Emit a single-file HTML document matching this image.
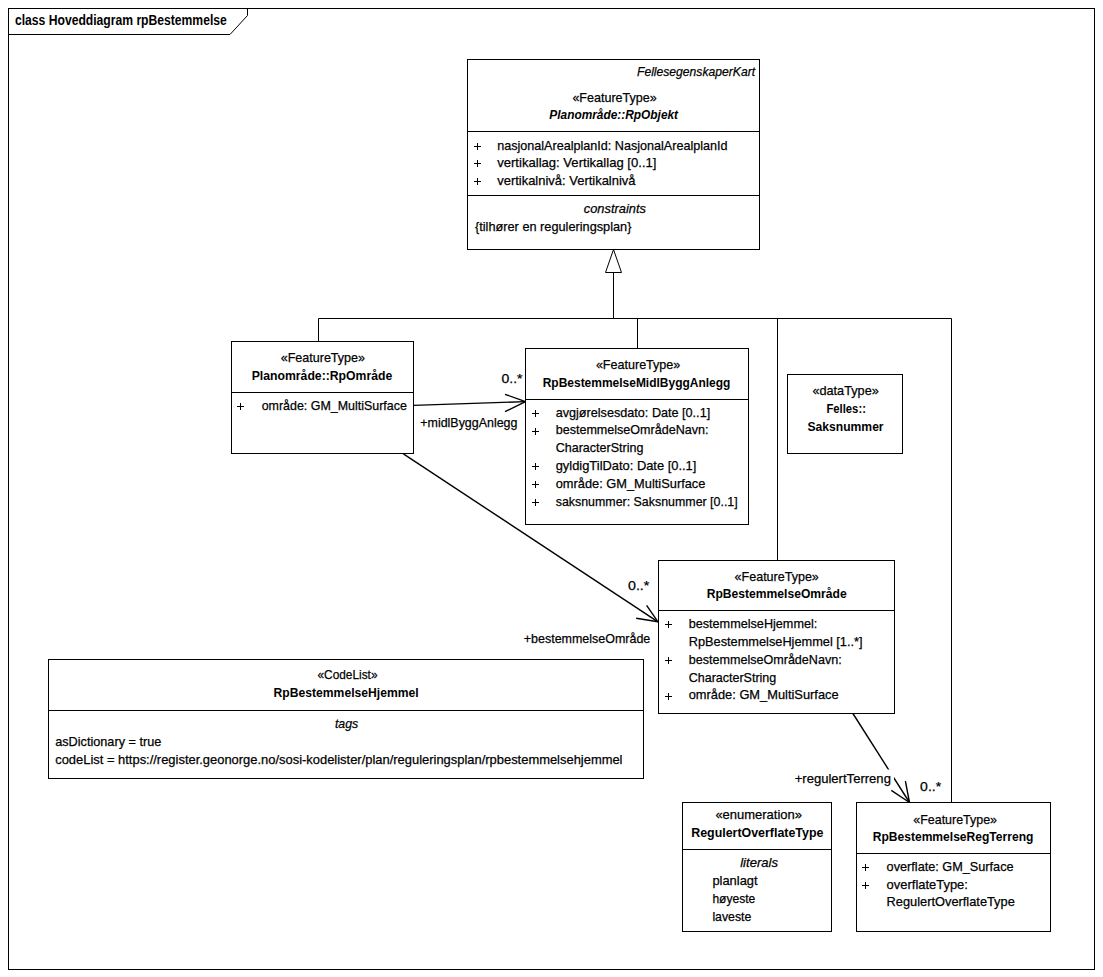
<!DOCTYPE html>
<html><head><meta charset="utf-8"><style>
html,body{margin:0;padding:0;background:#fff;}
svg{display:block;}
text{font-family:"Liberation Sans",sans-serif;font-size:13.5px;fill:#000;stroke:#000;stroke-width:0.25px;}
text[font-weight]{stroke-width:0;}
</style></head><body>
<svg width="1103" height="977" viewBox="0 0 1103 977">
<g fill="none" stroke="#000" stroke-width="1">
<rect x="8.5" y="8.5" width="1086" height="961"/>
<path d="M8.5,34.5 H230 L247.5,15.5 V8.5"/>
<rect x="467.5" y="59.5" width="292" height="190"/>
<line x1="467.5" y1="131.5" x2="759.5" y2="131.5"/>
<line x1="467.5" y1="195.5" x2="759.5" y2="195.5"/>
<path d="M613.5,249.5 L605.5,272.5 H621.5 Z"/>
<line x1="613.5" y1="272.5" x2="613.5" y2="318.5"/>
<line x1="318.5" y1="318.5" x2="951.5" y2="318.5"/>
<line x1="318.5" y1="318.5" x2="318.5" y2="341.5"/>
<line x1="637.5" y1="318.5" x2="637.5" y2="348.5"/>
<line x1="777.5" y1="318.5" x2="777.5" y2="560.5"/>
<line x1="951.5" y1="318.5" x2="951.5" y2="802.5"/>
<rect x="231.5" y="341.5" width="182" height="112"/>
<line x1="231.5" y1="392.5" x2="413.5" y2="392.5"/>
<rect x="525.5" y="348.5" width="223" height="176"/>
<line x1="525.5" y1="399.5" x2="748.5" y2="399.5"/>
<line x1="413.5" y1="405.4" x2="525.5" y2="401.6" stroke-width="1.4"/>
<line x1="505" y1="394.3" x2="525.5" y2="401.6" stroke-width="1.4"/>
<line x1="505" y1="411.7" x2="525.5" y2="401.6" stroke-width="1.4"/>
<rect x="787.5" y="374.5" width="115" height="79"/>
<rect x="658.5" y="560.5" width="236" height="153"/>
<line x1="658.5" y1="610.5" x2="894.5" y2="610.5"/>
<line x1="403.4" y1="453.9" x2="658" y2="621.8" stroke-width="1.4"/>
<line x1="646.6" y1="605.3" x2="658" y2="621.8" stroke-width="1.4"/>
<line x1="636.2" y1="618.3" x2="658" y2="621.8" stroke-width="1.4"/>
<rect x="48.5" y="659.5" width="595" height="119"/>
<line x1="48.5" y1="710.5" x2="643.5" y2="710.5"/>
<rect x="682.5" y="802.5" width="149" height="129"/>
<line x1="682.5" y1="849.5" x2="831.5" y2="849.5"/>
<rect x="856.5" y="802.5" width="194" height="129"/>
<line x1="856.5" y1="853.5" x2="1050.5" y2="853.5"/>
<line x1="852.9" y1="713.5" x2="909.5" y2="802.5" stroke-width="1.4"/>
<line x1="891.3" y1="790.4" x2="909.5" y2="802.5" stroke-width="1.4"/>
<line x1="905.4" y1="781.2" x2="909.5" y2="802.5" stroke-width="1.4"/>
<rect x="793" y="769.5" width="101" height="18" fill="#fff" stroke="none"/>
</g>
<g>
<text x="15.00" y="24.90" font-weight="bold" style="font-size:14.5px" textLength="211.77" lengthAdjust="spacingAndGlyphs">class Hoveddiagram rpBestemmelse</text>
<text x="637.00" y="76.30" font-style="italic" textLength="118.05" lengthAdjust="spacingAndGlyphs">FellesegenskaperKart</text>
<text x="572.40" y="101.80" textLength="84.32" lengthAdjust="spacingAndGlyphs">«FeatureType»</text>
<text x="549.30" y="118.60" font-weight="bold" font-style="italic" textLength="128.79" lengthAdjust="spacingAndGlyphs">Planområde::RpObjekt</text>
<path d="M474,146.5H481M477.5,143V150" stroke="#000" stroke-width="1" fill="none"/>
<path d="M474,163.5H481M477.5,160V167" stroke="#000" stroke-width="1" fill="none"/>
<path d="M474,181.5H481M477.5,178V185" stroke="#000" stroke-width="1" fill="none"/>
<text x="497.20" y="150.00" textLength="230.31" lengthAdjust="spacingAndGlyphs">nasjonalArealplanId: NasjonalArealplanId</text>
<text x="497.20" y="167.00" textLength="159.28" lengthAdjust="spacingAndGlyphs">vertikallag: Vertikallag [0..1]</text>
<text x="497.20" y="184.90" textLength="138.36" lengthAdjust="spacingAndGlyphs">vertikalnivå: Vertikalnivå</text>
<text x="583.80" y="213.30" font-style="italic" textLength="62.11" lengthAdjust="spacingAndGlyphs">constraints</text>
<text x="475.00" y="231.00" textLength="156.41" lengthAdjust="spacingAndGlyphs">{tilhører en reguleringsplan}</text>
<text x="280.70" y="361.60" textLength="84.32" lengthAdjust="spacingAndGlyphs">«FeatureType»</text>
<text x="251.70" y="379.80" font-weight="bold" textLength="140.57" lengthAdjust="spacingAndGlyphs">Planområde::RpOmråde</text>
<path d="M237,406.5H244M240.5,403V410" stroke="#000" stroke-width="1" fill="none"/>
<text x="261.70" y="409.70" textLength="145.12" lengthAdjust="spacingAndGlyphs">område: GM_MultiSurface</text>
<text x="595.90" y="369.20" textLength="84.42" lengthAdjust="spacingAndGlyphs">«FeatureType»</text>
<text x="542.70" y="387.10" font-weight="bold" textLength="187.70" lengthAdjust="spacingAndGlyphs">RpBestemmelseMidlByggAnlegg</text>
<path d="M532,413.5H539M535.5,410V417" stroke="#000" stroke-width="1" fill="none"/>
<path d="M532,431.5H539M535.5,428V435" stroke="#000" stroke-width="1" fill="none"/>
<path d="M532,466.5H539M535.5,463V470" stroke="#000" stroke-width="1" fill="none"/>
<path d="M532,484.5H539M535.5,481V488" stroke="#000" stroke-width="1" fill="none"/>
<path d="M532,502.5H539M535.5,499V506" stroke="#000" stroke-width="1" fill="none"/>
<text x="555.70" y="416.70" textLength="154.48" lengthAdjust="spacingAndGlyphs">avgjørelsesdato: Date [0..1]</text>
<text x="555.70" y="434.40" textLength="152.82" lengthAdjust="spacingAndGlyphs">bestemmelseOmrådeNavn:</text>
<text x="555.70" y="451.90" textLength="87.68" lengthAdjust="spacingAndGlyphs">CharacterString</text>
<text x="555.70" y="470.00" textLength="140.67" lengthAdjust="spacingAndGlyphs">gyldigTilDato: Date [0..1]</text>
<text x="555.70" y="487.80" textLength="149.72" lengthAdjust="spacingAndGlyphs">område: GM_MultiSurface</text>
<text x="555.70" y="505.80" textLength="182.02" lengthAdjust="spacingAndGlyphs">saksnummer: Saksnummer [0..1]</text>
<text x="501.50" y="382.90" textLength="21.01" lengthAdjust="spacingAndGlyphs">0..*</text>
<text x="420.30" y="426.90" textLength="97.11" lengthAdjust="spacingAndGlyphs">+midlByggAnlegg</text>
<text x="812.40" y="395.20" textLength="66.42" lengthAdjust="spacingAndGlyphs">«dataType»</text>
<text x="826.40" y="413.10" font-weight="bold" textLength="39.51" lengthAdjust="spacingAndGlyphs">Felles::</text>
<text x="807.40" y="431.10" font-weight="bold" textLength="76.21" lengthAdjust="spacingAndGlyphs">Saksnummer</text>
<text x="734.60" y="580.50" textLength="84.22" lengthAdjust="spacingAndGlyphs">«FeatureType»</text>
<text x="706.70" y="597.80" font-weight="bold" textLength="140.01" lengthAdjust="spacingAndGlyphs">RpBestemmelseOmråde</text>
<path d="M665,624.5H672M668.5,621V628" stroke="#000" stroke-width="1" fill="none"/>
<path d="M665,660.5H672M668.5,657V664" stroke="#000" stroke-width="1" fill="none"/>
<path d="M665,696.5H672M668.5,693V700" stroke="#000" stroke-width="1" fill="none"/>
<text x="688.70" y="627.70" textLength="128.60" lengthAdjust="spacingAndGlyphs">bestemmelseHjemmel:</text>
<text x="688.70" y="645.60" textLength="173.91" lengthAdjust="spacingAndGlyphs">RpBestemmelseHjemmel [1..*]</text>
<text x="688.70" y="663.60" textLength="153.02" lengthAdjust="spacingAndGlyphs">bestemmelseOmrådeNavn:</text>
<text x="688.70" y="681.60" textLength="87.58" lengthAdjust="spacingAndGlyphs">CharacterString</text>
<text x="688.70" y="699.10" textLength="149.92" lengthAdjust="spacingAndGlyphs">område: GM_MultiSurface</text>
<text x="628.00" y="589.80" textLength="21.31" lengthAdjust="spacingAndGlyphs">0..*</text>
<text x="523.80" y="643.20" textLength="126.48" lengthAdjust="spacingAndGlyphs">+bestemmelseOmråde</text>
<text x="317.50" y="679.00" textLength="59.99" lengthAdjust="spacingAndGlyphs">«CodeList»</text>
<text x="273.60" y="697.20" font-weight="bold" textLength="145.00" lengthAdjust="spacingAndGlyphs">RpBestemmelseHjemmel</text>
<text x="334.90" y="727.50" font-style="italic" textLength="23.30" lengthAdjust="spacingAndGlyphs">tags</text>
<text x="55.20" y="746.20" textLength="106.10" lengthAdjust="spacingAndGlyphs">asDictionary = true</text>
<text x="55.20" y="763.90" textLength="567.31" lengthAdjust="spacingAndGlyphs">codeList = https://register.geonorge.no/sosi-kodelister/plan/reguleringsplan/rpbestemmelsehjemmel</text>
<text x="715.40" y="819.40" textLength="86.52" lengthAdjust="spacingAndGlyphs">«enumeration»</text>
<text x="691.20" y="836.50" font-weight="bold" textLength="132.22" lengthAdjust="spacingAndGlyphs">RegulertOverflateType</text>
<text x="740.20" y="866.80" font-style="italic" textLength="37.80" lengthAdjust="spacingAndGlyphs">literals</text>
<text x="712.40" y="884.60" textLength="45.17" lengthAdjust="spacingAndGlyphs">planlagt</text>
<text x="712.40" y="902.60" textLength="42.83" lengthAdjust="spacingAndGlyphs">høyeste</text>
<text x="712.40" y="920.50" textLength="38.88" lengthAdjust="spacingAndGlyphs">laveste</text>
<text x="913.30" y="823.60" textLength="83.72" lengthAdjust="spacingAndGlyphs">«FeatureType»</text>
<text x="872.70" y="840.90" font-weight="bold" textLength="160.70" lengthAdjust="spacingAndGlyphs">RpBestemmelseRegTerreng</text>
<path d="M862,867.5H869M865.5,864V871" stroke="#000" stroke-width="1" fill="none"/>
<path d="M862,885.5H869M865.5,882V889" stroke="#000" stroke-width="1" fill="none"/>
<text x="886.60" y="870.70" textLength="127.00" lengthAdjust="spacingAndGlyphs">overflate: GM_Surface</text>
<text x="886.60" y="888.50" textLength="81.32" lengthAdjust="spacingAndGlyphs">overflateType:</text>
<text x="886.60" y="906.30" textLength="128.20" lengthAdjust="spacingAndGlyphs">RegulertOverflateType</text>
<text x="920.10" y="790.90" textLength="21.01" lengthAdjust="spacingAndGlyphs">0..*</text>
<text x="794.70" y="783.30" textLength="96.21" lengthAdjust="spacingAndGlyphs">+regulertTerreng</text>
</g>
</svg>
</body></html>
